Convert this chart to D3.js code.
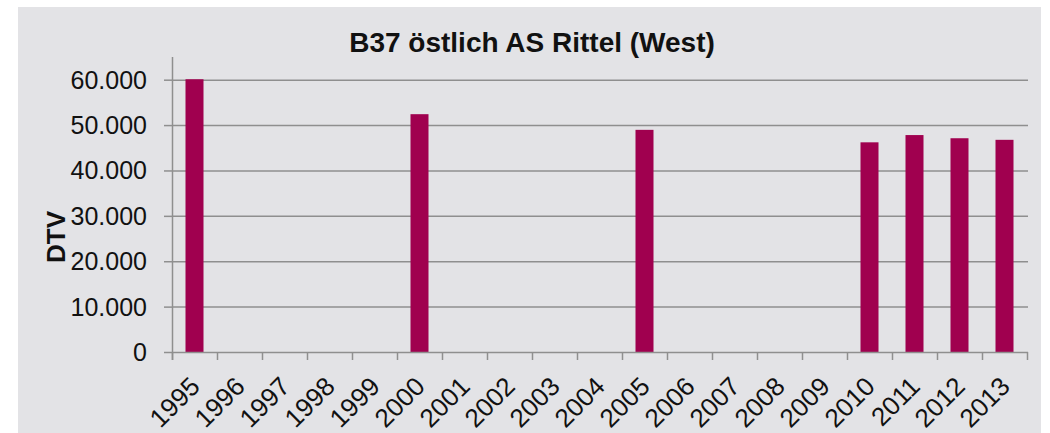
<!DOCTYPE html>
<html>
<head>
<meta charset="utf-8">
<script src="https://cdn.jsdelivr.net/npm/d3@7"></script>
<style>
  body { margin: 0; background: #fff; }
  svg { display: block; font-family: "Liberation Sans", Arial, sans-serif; }
</style>
</head>
<body>
<div id="chart"></div>
<script>
const years = ["1995","1996","1997","1998","1999","2000","2001","2002","2003","2004",
               "2005","2006","2007","2008","2009","2010","2011","2012","2013"];
const dtv = [60100, null, null, null, null, 52400, null, null, null, null,
             48950, null, null, null, null, 46200, 47800, 47100, 46750];
const yTicks = [0, 10000, 20000, 30000, 40000, 50000, 60000];

const W = 1050, H = 433;
const m = { left: 172, right: 1027, top: 57, bottom: 352 };

const svg = d3.select("#chart").append("svg")
    .attr("width", W).attr("height", H);

svg.append("rect")
    .attr("x", 18).attr("y", 7)
    .attr("width", 1023).attr("height", H - 7)
    .attr("fill", "#e3e3e6");

const x = d3.scaleBand().domain(years).range([m.left, m.right]).paddingInner(0.6).paddingOuter(0.3);
const xb = d3.scaleBand().domain(years).range([m.left, m.right]);
const y = d3.scaleLinear().domain([0, 65000]).range([m.bottom, m.top]);

const fmt = d => d === 0 ? "0" : d3.format(",")(d).replace(/,/g, ".");

// gridlines
svg.append("g")
  .selectAll("line")
  .data(yTicks.filter(d => d > 0))
  .join("line")
    .attr("x1", m.left).attr("x2", m.right + 1)
    .attr("y1", d => y(d) + 0.5).attr("y2", d => y(d) + 0.5)
    .attr("stroke", "#8f8f8f").attr("stroke-width", 1.5);

// bars
svg.append("g")
  .selectAll("rect")
  .data(years.map((yr, i) => ({ yr, v: dtv[i] })).filter(d => d.v != null))
  .join("rect")
    .attr("x", d => x(d.yr))
    .attr("y", d => y(d.v))
    .attr("width", x.bandwidth())
    .attr("height", d => y(0) - y(d.v))
    .attr("fill", "#a0004f");

// y axis
const ya = svg.append("g");
ya.append("line")
    .attr("x1", m.left + 0.5).attr("x2", m.left + 0.5)
    .attr("y1", m.top).attr("y2", m.bottom + 8)
    .attr("stroke", "#8f8f8f").attr("stroke-width", 1.5);
ya.selectAll(".tk").data(yTicks).join("line")
    .attr("x1", m.left - 8).attr("x2", m.left)
    .attr("y1", d => y(d) + 0.5).attr("y2", d => y(d) + 0.5)
    .attr("stroke", "#8f8f8f").attr("stroke-width", 1.5);
ya.selectAll("text").data(yTicks).join("text")
    .attr("x", 147).attr("y", d => y(d))
    .attr("dy", "0.36em")
    .attr("text-anchor", "end")
    .attr("font-size", 25)
    .attr("fill", "#111")
    .text(fmt);

// x axis
const xa = svg.append("g");
xa.append("line")
    .attr("x1", m.left).attr("x2", m.right + 1)
    .attr("y1", m.bottom + 0.5).attr("y2", m.bottom + 0.5)
    .attr("stroke", "#8f8f8f").attr("stroke-width", 1.5);
const bounds = years.map(d => xb(d)).concat([m.right]);
xa.selectAll(".tk").data(bounds).join("line")
    .attr("x1", d => d + 0.5).attr("x2", d => d + 0.5)
    .attr("y1", m.bottom).attr("y2", m.bottom + 8)
    .attr("stroke", "#8f8f8f").attr("stroke-width", 1.5);
xa.selectAll("text").data(years).join("text")
    .attr("transform", d => `translate(${xb(d) + xb.bandwidth() / 2 + 7},${m.bottom + 36}) rotate(-45)`)
    .attr("text-anchor", "end")
    .attr("font-size", 26)
    .attr("fill", "#111")
    .text(d => d);

// title
svg.append("text")
    .attr("x", 532).attr("y", 52)
    .attr("text-anchor", "middle")
    .attr("font-size", 28)
    .attr("font-weight", "bold")
    .attr("fill", "#111")
    .text("B37 östlich AS Rittel (West)");

// y label
svg.append("text")
    .attr("transform", "translate(65,237) rotate(-90)")
    .attr("text-anchor", "middle")
    .attr("font-size", 26)
    .attr("font-weight", "bold")
    .attr("fill", "#111")
    .text("DTV");
</script>
</body>
</html>
